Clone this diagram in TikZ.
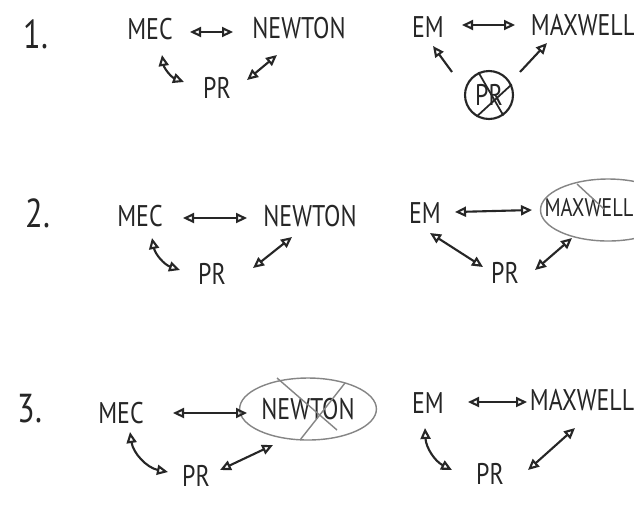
\documentclass[tikz,border=0pt]{standalone}
\usepackage{fontspec}
\usepackage{xcolor}
\newfontfamily\handfont{PT Sans}[FakeStretch=0.8]
\usetikzlibrary{arrows.meta, positioning, shapes.geometric}

\definecolor{pencil}{HTML}{262626}
\definecolor{faint}{HTML}{858585}

\begin{document}
\begin{tikzpicture}[
    x=0.02cm, y=-0.02cm,
    lbl/.style={text=pencil, font=\handfont\fontsize{17}{17}\selectfont, inner sep=1pt},
    num/.style={text=pencil, font=\handfont\fontsize{23}{23}\selectfont, inner sep=1pt},
    arr/.style={{Triangle[open, length=2.2mm, width=2mm]}-{Triangle[open, length=2.2mm, width=2mm]},
                draw=pencil, line width=1.2pt},
    arrto/.style={-{Triangle[open, length=2.2mm, width=2mm]}, draw=pencil, line width=1.2pt},
    ring/.style={draw=faint, line width=0.8pt},
    strike/.style={draw=faint, line width=0.8pt}
]
\fill[white] (0,0) rectangle (634,515);
\useasboundingbox (0,0) rectangle (634,515);

% row 1
\node[num] (n1) at (36,34) {1.};
\node[lbl] (mec1) at (150,29) {MEC};
\node[lbl] (newton1) at (299,28) {NEWTON};
\node[lbl] (pr1) at (217,88) {PR};
\node[lbl] (em1) at (428,27) {EM};
\node[lbl] (maxwell1) at (583,25) {MAXWELL};
\node[lbl, circle, draw=pencil, line width=1.2pt, minimum size=0.96cm] (pr1x) at (489,95) {PR};
\draw[strike, draw=pencil, line width=1pt] (pr1x.115) -- (pr1x.-55);
\draw[strike, draw=pencil, line width=1pt] (pr1x.25) -- (pr1x.-120);

\draw[arr] ([shift={(40,3)}]mec1.center) -- ([shift={(-66,4)}]newton1.center);
\draw[arr] ([shift={(12,26)}]mec1.center) to[bend right=30] ([shift={(-33,-6)}]pr1.center);
\draw[arr] ([shift={(30,-8)}]pr1.center) -- ([shift={(-22,27)}]newton1.center);
\draw[arr] ([shift={(34,-2)}]em1.center) -- ([shift={(-68,0)}]maxwell1.center);
\draw[arrto] ([shift={(-37,-23)}]pr1x.center) -- ([shift={(5,19)}]em1.center);
\draw[arrto] ([shift={(31,-23)}]pr1x.center) -- ([shift={(-36,18)}]maxwell1.center);

% row 2
\node[num] (n2) at (38,213) {2.};
\node[lbl] (mec2) at (140,216) {MEC};
\node[lbl] (newton2) at (310,216) {NEWTON};
\node[lbl] (pr2) at (212,274) {PR};
\node[lbl] (em2) at (425,213) {EM};
\node[lbl, font=\handfont\fontsize{14.5}{15}\selectfont] (maxwell2) at (589,208) {MAXWELL};
\node[ring, ellipse, minimum width=2.7cm, minimum height=1.24cm] (ring2) at (608,210) {};
\draw[strike] ([shift={(-31,-26)}]ring2.center) -- ([shift={(-4,-1)}]ring2.center);
\node[lbl] (pr2r) at (505,273) {PR};

\draw[arr] ([shift={(43,2)}]mec2.center) -- ([shift={(-63,2)}]newton2.center);
\draw[arr] ([shift={(12,22)}]mec2.center) to[bend right=30] ([shift={(-32,-4)}]pr2.center);
\draw[arr] ([shift={(41,-6)}]pr2.center) -- ([shift={(-18,21)}]newton2.center);
\draw[arr] ([shift={(30,-1)}]em2.center) -- ([shift={(-76,0)}]ring2.center);
\draw[arr] ([shift={(5,20)}]em2.center) -- ([shift={(-22,-6)}]pr2r.center);
\draw[arr] ([shift={(30,-3)}]pr2r.center) -- ([shift={(-36,28)}]ring2.center);

% row 3
\node[num] (n3) at (30,409) {3.};
\node[lbl] (mec3) at (121,413) {MEC};
\node[lbl, ellipse, draw=faint, line width=0.8pt, minimum width=2.52cm, minimum height=1.24cm] (newton3) at (308,409) {NEWTON};
\draw[strike] ([shift={(-31,-31)}]newton3.center) -- ([shift={(29,21)}]newton3.center);
\draw[strike] ([shift={(37,-26)}]newton3.center) -- ([shift={(-8,31)}]newton3.center);
\node[lbl] (pr3) at (196,476) {PR};
\node[lbl] (em3) at (428,403) {EM};
\node[lbl] (maxwell3) at (582,400) {MAXWELL};
\node[lbl] (pr3r) at (490,474) {PR};

\draw[arr] ([shift={(52,0)}]mec3.center) -- ([shift={(-61,4)}]newton3.center);
\draw[arr] ([shift={(9,19)}]mec3.center) to[bend right=35] ([shift={(-28,-4)}]pr3.center);
\draw[arr] ([shift={(24,-6)}]pr3.center) -- ([shift={(-35,36)}]newton3.center);
\draw[arr] ([shift={(40,-1)}]em3.center) -- ([shift={(-55,2)}]maxwell3.center);
\draw[arr] ([shift={(-3,25)}]em3.center) to[bend right=30] ([shift={(-38,-4)}]pr3r.center);
\draw[arr] ([shift={(38,-4)}]pr3r.center) -- ([shift={(-7,28)}]maxwell3.center);
\end{tikzpicture}
\end{document}
